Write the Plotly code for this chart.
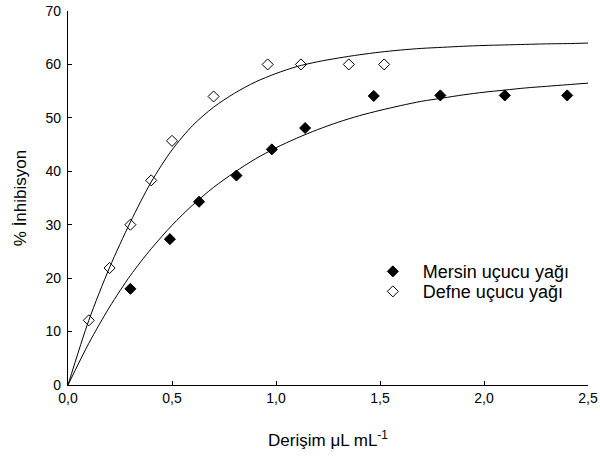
import plotly.graph_objects as go

# Measured data points
defne_x = [0.1, 0.2, 0.3, 0.4, 0.5, 0.7, 0.96, 1.12, 1.35, 1.52]
defne_y = [12.1, 21.9, 30.0, 38.3, 45.7, 54.0, 60.0, 60.0, 60.0, 60.0]
mersin_x = [0.3, 0.49, 0.63, 0.81, 0.98, 1.14, 1.47, 1.79, 2.1, 2.4]
mersin_y = [18.0, 27.3, 34.3, 39.2, 44.1, 48.1, 54.1, 54.2, 54.2, 54.2]

# Fitted curves
fit_x = [0, 0.1, 0.2, 0.3, 0.4, 0.5, 0.6, 0.7, 0.8, 0.9, 1.0, 1.1, 1.2, 1.3,
         1.4, 1.5, 1.6, 1.7, 1.8, 1.9, 2.0, 2.1, 2.2, 2.3, 2.4, 2.5]
defne_fit_y = [0, 12.1, 22.0, 30.5, 38.0, 44.0, 48.6, 52.0, 54.6, 56.7, 58.3, 59.6, 60.5, 61.2,
               61.8, 62.3, 62.7, 63.0, 63.2, 63.4, 63.55, 63.65, 63.75, 63.85, 63.9, 64.0]
mersin_fit_y = [0, 7.8, 14.6, 20.5, 25.5, 29.9, 33.7, 37.0, 39.8, 42.3, 44.4, 46.2, 47.8, 49.2,
                50.4, 51.4, 52.3, 53.1, 53.7, 54.3, 54.8, 55.2, 55.6, 55.9, 56.2, 56.5]

x_ticks = [0, 0.5, 1.0, 1.5, 2.0, 2.5]
y_ticks = [0, 10, 20, 30, 40, 50, 60, 70]

fig = go.Figure()
for fy in (defne_fit_y, mersin_fit_y):
    fig.add_trace(go.Scatter(x=fit_x, y=fy, mode="lines",
                             line=dict(color="black", width=1, shape="spline", smoothing=0.8),
                             showlegend=False, hoverinfo="skip"))
fig.add_trace(go.Scatter(x=mersin_x, y=mersin_y, mode="markers", name="Mersin uçucu yağı", legend="legend",
                         marker=dict(symbol="diamond", size=8.5, color="black", line=dict(color="black", width=1))))
fig.add_trace(go.Scatter(x=defne_x, y=defne_y, mode="markers", name="Defne uçucu yağı", legend="legend2",
                         marker=dict(symbol="diamond-open", size=8.5, color="black", line=dict(color="black", width=1))))

font = "Liberation Sans, Arial, sans-serif"
leg_common = dict(xanchor="left", yanchor="middle", bgcolor="rgba(0,0,0,0)",
                  font=dict(size=18, family=font), itemwidth=50)
fig.update_layout(
    width=600, height=457,
    margin=dict(l=68, r=12, t=11, b=72),
    paper_bgcolor="white", plot_bgcolor="white",
    separators=",.",
    font=dict(family=font, size=14, color="black"),
    showlegend=True,
    legend=dict(x=0.567, y=0.303, **leg_common),
    legend2=dict(x=0.567, y=0.2495, **leg_common),
    xaxis=dict(range=[0, 2.5], tickvals=x_ticks, tickformat=".1f", showline=True, linecolor="black", linewidth=1.3,
               ticks="inside", ticklen=4, tickcolor="black", showgrid=False, zeroline=False, automargin=False,
               tickfont=dict(size=14),
               title=dict(text="Derişim μL mL<sup>-1</sup>", font=dict(size=17), standoff=29)),
    yaxis=dict(range=[0, 70], tickvals=y_ticks, showline=True, linecolor="black", linewidth=1.3,
               ticks="inside", ticklen=4, tickcolor="black", showgrid=False, zeroline=False, automargin=False,
               tickfont=dict(size=14), ticklabelstandoff=3,
               title=dict(text="% İnhibisyon", font=dict(size=17), standoff=14)),
)
fig.write_html("out.html", config={"displayModeBar": False},
               post_script="document.body.style.margin='0';")
